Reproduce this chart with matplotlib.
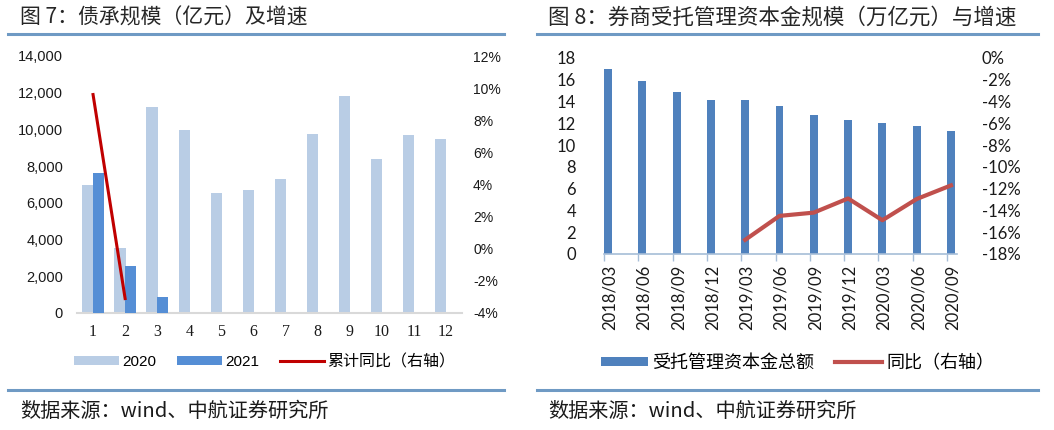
import numpy as np
import matplotlib
matplotlib.use('Agg')
from matplotlib import pyplot as plt
from matplotlib.lines import Line2D
from matplotlib.ticker import FuncFormatter

plt.rcParams['font.family'] = ['Noto Sans CJK SC', 'DejaVu Sans']

# --- chart 7 data ---
months = [1, 2, 3, 4, 5, 6, 7, 8, 9, 10, 11, 12]
bond_2020 = [6980, 3540, 11230, 9970, 6540, 6700, 7300, 9750, 11830, 8390, 9700, 9480]
bond_2021 = [7630, 2560, 870]
cum_yoy = [9.6, -3.1]  # %

# --- chart 8 data ---
quarters = ['2018/03', '2018/06', '2018/09', '2018/12', '2019/03', '2019/06',
            '2019/09', '2019/12', '2020/03', '2020/06', '2020/09']
capital = [17.0, 15.9, 14.9, 14.1, 14.1, 13.6, 12.75, 12.3, 12.0, 11.8, 11.3]
yoy = [None, None, None, None, -16.7, -14.5, -14.2, -12.9, -14.9, -12.95, -11.7]

c2020 = '#B9CDE5'
c2021 = '#558ED5'
cred = '#C00000'
cbar = '#4F81BD'
cline = '#C0504D'
cacc = '#6F9AC4'

fig = plt.figure(figsize=(10.54, 4.30), dpi=100)
W, H = 1054.0, 430.0

def fx(x): return x / W
def fy(y): return 1 - y / H

# titles, rules, sources
fig.text(fx(20), fy(18), '图 7：债承规模（亿元）及增速', fontsize=15, color='#262626', va='center')
fig.text(fx(548), fy(18), '图 8：券商受托管理资本金规模（万亿元）与增速', fontsize=15.5, color='#262626', va='center')
for x0, x1 in [(8, 504), (537, 1038)]:
    fig.add_artist(Line2D([fx(x0), fx(x1)], [fy(34), fy(34)], color=cacc, lw=2.2))
    fig.add_artist(Line2D([fx(x0), fx(x1)], [fy(390), fy(390)], color=cacc, lw=2.2))
fig.text(fx(20), fy(411), '数据来源：wind、中航证券研究所', fontsize=14.5, color='#1a1a1a', va='center')
fig.text(fx(548), fy(411), '数据来源：wind、中航证券研究所', fontsize=14.5, color='#1a1a1a', va='center')

# ---------------- chart 7 ----------------
ax1 = fig.add_axes([fx(77), fy(313), fx(462) - fx(77), fy(56) - fy(313)])
x = np.array(months)
b1 = ax1.bar(x - 0.16, bond_2020, width=0.35, color=c2020, label='2020', zorder=2)
b2 = ax1.bar(x[:len(bond_2021)] + 0.16, bond_2021, width=0.35, color=c2021, label='2021', zorder=3)
ax1.set_xlim(0.5, 12.5)
ax1.set_ylim(0, 14000)
ax1.set_yticks(np.arange(0, 14001, 2000))
ax1.yaxis.set_major_formatter(FuncFormatter(lambda v, p: f'{int(v):,}'))
ax1.set_xticks(x)
ax1.set_xticklabels([str(m) for m in months], family='Liberation Serif', fontsize=11.5)
for lab in ax1.get_yticklabels():
    lab.set_family('Liberation Sans')
    lab.set_fontsize(10.5)
ax1.tick_params(axis='both', length=0, colors='#1a1a1a')
ax1.tick_params(axis='x', pad=8)
ax1.tick_params(axis='y', pad=10)
for s in ['top', 'right', 'left']:
    ax1.spines[s].set_visible(False)
ax1.spines['bottom'].set_color('#D9D9D9')
ax1.spines['bottom'].set_linewidth(1.5)

ax1r = ax1.twinx()
l1, = ax1r.plot(x[:len(cum_yoy)], cum_yoy, color=cred, lw=2.2, label='累计同比（右轴）', zorder=4)
ax1r.set_ylim(-4, 12)
ax1r.set_yticks(np.arange(-4, 13, 2))
ax1r.yaxis.set_major_formatter(FuncFormatter(lambda v, p: f'{int(v)}%'))
for lab in ax1r.get_yticklabels():
    lab.set_family('Liberation Sans')
    lab.set_fontsize(10)
ax1r.tick_params(axis='y', length=0, pad=8, colors='#1a1a1a')
for s in ax1r.spines.values():
    s.set_visible(False)

leg1 = fig.legend(handles=[b1, b2, l1], loc='center left', bbox_to_anchor=(fx(60), fy(362)),
                  ncol=3, frameon=False, fontsize=11.5, handlelength=2.8, handleheight=0.5,
                  handletextpad=0.2, columnspacing=1.3)
for t in leg1.get_texts()[:2]:
    t.set_family('Liberation Sans')
    t.set_fontsize(11)

# ---------------- chart 8 ----------------
ax2 = fig.add_axes([fx(604), fy(254), fx(957) - fx(604), fy(58) - fy(254)])
q = np.arange(len(quarters))
bw = 0.23
b3 = ax2.bar(q, capital, width=bw, align='edge', color=cbar, label='受托管理资本金总额', zorder=2)
ax2.set_xlim(0, len(quarters) - 1 + 0.29)
ax2.set_ylim(0, 18)
ax2.set_yticks(np.arange(0, 19, 2))
ax2.set_xticks(q)
ax2.set_xticklabels([])
ax2.set_xticks(q + bw / 2 + 0.05, minor=True)
ax2.set_xticklabels(quarters, minor=True, rotation=90, family='Lato', fontsize=12)
ax2.tick_params(axis='x', which='major', length=5, width=1, color='#A6BDD7', direction='out')
ax2.tick_params(axis='x', which='minor', length=0, pad=8, colors='#1a1a1a')
for lab in ax2.get_yticklabels():
    lab.set_family('Lato')
    lab.set_fontsize(12)
ax2.tick_params(axis='y', length=0, pad=20, colors='#1a1a1a')
for s in ['top', 'right', 'left']:
    ax2.spines[s].set_visible(False)
ax2.spines['bottom'].set_color('#A6BDD7')
ax2.spines['bottom'].set_linewidth(1.2)

ax2r = ax2.twinx()
yv = np.array([np.nan if v is None else v for v in yoy], dtype=float)
l2, = ax2r.plot(q + bw / 2, yv, color=cline, lw=3, label='同比（右轴）', zorder=4)
ax2r.set_ylim(-18, 0)
ax2r.set_yticks(np.arange(-18, 1, 2))
ax2r.yaxis.set_major_formatter(FuncFormatter(lambda v, p: f'{int(v)}%'))
for lab in ax2r.get_yticklabels():
    lab.set_family('Lato')
    lab.set_fontsize(12)
ax2r.tick_params(axis='y', length=0, pad=18, colors='#1a1a1a')
for s in ax2r.spines.values():
    s.set_visible(False)

fig.legend(handles=[b3, l2], loc='center left', bbox_to_anchor=(fx(585), fy(363)),
           ncol=2, frameon=False, fontsize=13, handlelength=2.6, handleheight=0.45,
           handletextpad=0.2, columnspacing=1.2)

fig.savefig('out.png', dpi=100)
